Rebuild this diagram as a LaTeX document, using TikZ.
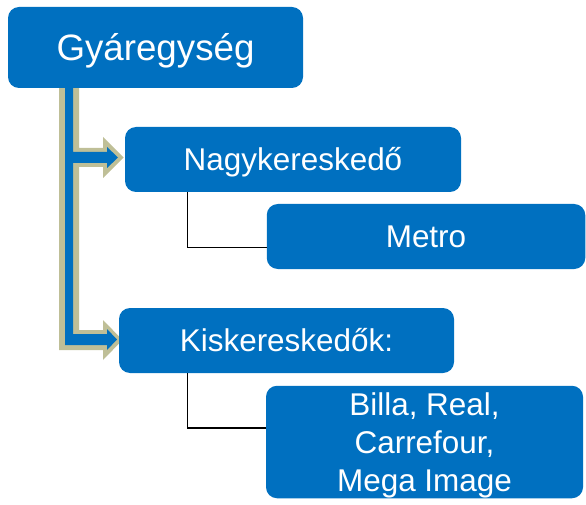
\documentclass[tikz,border=0pt]{standalone}
\usepackage{fontspec}
\setmainfont{Liberation Sans}
\definecolor{boxblue}{RGB}{0,112,192}
\definecolor{arrowtan}{RGB}{191,191,151}
\begin{document}
\begin{tikzpicture}[x=1pt,y=-1pt,
  box/.style={rectangle, rounded corners=11pt, fill=boxblue, text=white,
    inner sep=0pt, font=\fontsize{31.45}{38}\selectfont,
    text height=22.5pt, text depth=0pt},
  link/.style={draw=black, line width=1.2pt}]
\useasboundingbox (0,0) rectangle (586,505);
% arrow outline (tan) and inner (blue)
\fill[arrowtan] (59,88) -- (79,88) -- (79,148) -- (103,148) -- (103,137) -- (123.5,157.5)
  -- (103,178) -- (103,167) -- (79,167) -- (79,330) -- (103,330) -- (103,320)
  -- (122.5,340) -- (103,360) -- (103,350) -- (59,350) -- cycle;
\fill[boxblue] (65,88) -- (73,88) -- (73,152) -- (107,152) -- (107,147) -- (118,157.5)
  -- (107,168) -- (107,163) -- (73,163) -- (73,334) -- (107,334) -- (107,329)
  -- (117,339.5) -- (107,350) -- (107,345) -- (65,345) -- cycle;
% boxes
\node[box, minimum width=295pt, minimum height=81pt, text height=26.3pt,
  font=\fontsize{36.7}{44}\selectfont] (top) at (155.5,47.5) {Gyáregység};
\node[box, minimum width=336pt, minimum height=65pt] (nagy) at (293,159.5) {Nagykereskedő};
\node[box, minimum width=318.5pt, minimum height=65pt] (metro) at (426,236.5) {Metro};
\node[box, minimum width=335pt, minimum height=65pt] (kis) at (286.5,340.5) {Kiskereskedők:};
\node[box, minimum width=317pt, minimum height=112.5pt, align=center, text height=,
  text depth=0pt] (billa) at (424.5,442) {Billa, Real,\\Carrefour,\\Mega Image};
% connectors
\draw[link] ([xshift=63pt]nagy.south west) |- ([yshift=-11pt]metro.west);
\draw[link] ([xshift=69pt]kis.south west) |- ([yshift=14pt]billa.west);
\end{tikzpicture}
\end{document}
